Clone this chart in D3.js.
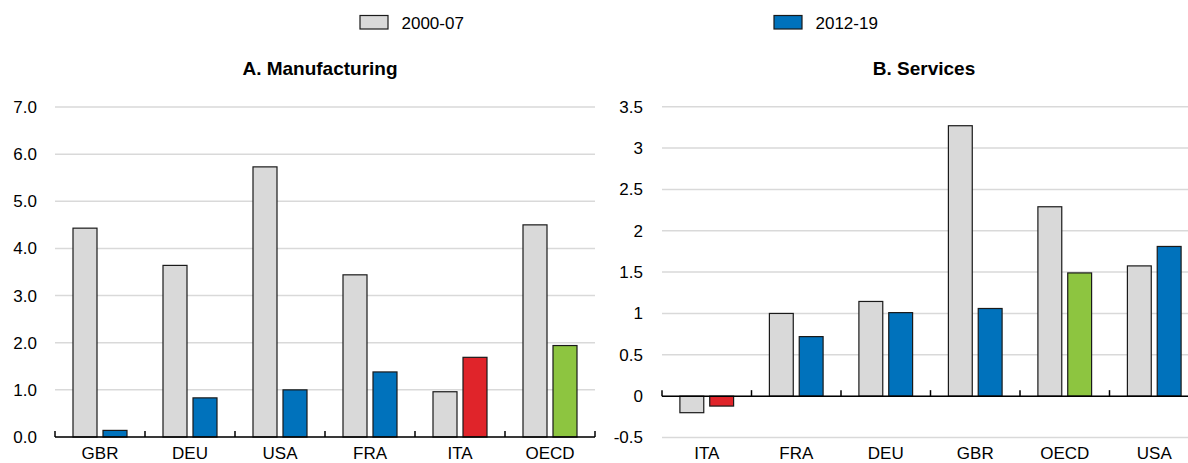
<!DOCTYPE html>
<html><head><meta charset="utf-8">
<script src="https://cdn.jsdelivr.net/npm/d3@7"></script>
<style>
html,body{margin:0;padding:0;background:#fff;}
svg{display:block;font-family:"Liberation Sans Narrow","Arial Narrow","Liberation Sans",Arial,sans-serif;}
</style></head>
<body>
<svg id="chart" width="1188" height="463"></svg>
<script>
const seriesNames = ["2000-07", "2012-19"];
const mfgCats = ["GBR","DEU","USA","FRA","ITA","OECD"];
const mfg0007 = [4.43, 3.64, 5.73, 3.44, 0.96, 4.50];
const mfg1219 = [0.14, 0.83, 1.00, 1.38, 1.69, 1.94];
const mfgTicks = [0,1,2,3,4,5,6,7];
const svcCats = ["ITA","FRA","DEU","GBR","OECD","USA"];
const svc0007 = [-0.20, 1.00, 1.145, 3.27, 2.29, 1.575];
const svc1219 = [-0.12, 0.72, 1.01, 1.06, 1.49, 1.81];
const svcTicks = [-0.5,0,0.5,1,1.5,2,2.5,3,3.5];

const GREY = "#d9d9d9", BLUE = "#0072bc", RED = "#e0242a", GREEN = "#8dc540";
const colorFor = (cat, s) => s === 0 ? GREY : (cat === "ITA" ? RED : cat === "OECD" ? GREEN : BLUE);

const svg = d3.select("#chart");
const FS = 17;

function panel(cfg) {
  const g = svg.append("g");
  const x = d3.scaleBand().domain(cfg.cats).range([cfg.x0, cfg.x1]).padding(0);
  const xs = d3.scaleBand().domain([0,1]).range([0, x.bandwidth()]).paddingInner(0.2).paddingOuter(0.6);
  const y = d3.scaleLinear().domain(cfg.domain).range([cfg.yBottom, cfg.yTop]);

  // gridlines
  g.selectAll(".grid").data(cfg.ticks).join("line")
    .attr("x1", cfg.x0).attr("x2", cfg.x1)
    .attr("y1", d => y(d)).attr("y2", d => y(d))
    .attr("stroke", "#d9d9d9").attr("stroke-width", 1.5);

  // y axis labels
  const ya = d3.axisLeft(y).tickValues(cfg.ticks).tickSize(0).tickPadding(0).tickFormat(cfg.fmt);
  const yg = g.append("g").attr("transform", `translate(${cfg.labelX},0)`).call(ya);
  yg.select(".domain").remove();
  yg.selectAll("text").attr("font-size", FS).attr("fill", "#000").attr("font-family", null);

  // bars
  const rows = cfg.cats.map((c, i) => ({cat: c, vals: [cfg.s0[i], cfg.s1[i]]}));
  rows.forEach(r => {
    r.vals.forEach((v, s) => {
      g.append("rect")
        .attr("x", x(r.cat) + xs(s))
        .attr("width", xs.bandwidth())
        .attr("y", Math.min(y(v), y(0)))
        .attr("height", Math.abs(y(v) - y(0)))
        .attr("fill", colorFor(r.cat, s))
        .attr("stroke", "#1a1a1a").attr("stroke-width", 1.2);
    });
  });

  // zero axis line
  g.append("line").attr("x1", cfg.x0).attr("x2", cfg.x1)
    .attr("y1", y(0)).attr("y2", y(0)).attr("stroke", "#000").attr("stroke-width", 1.5);
  // boundary ticks (upward)
  const bounds = cfg.cats.map(c => x(c)).concat([cfg.x1]);
  g.selectAll(".btick").data(bounds).join("line")
    .attr("x1", d => d).attr("x2", d => d)
    .attr("y1", y(0)).attr("y2", y(0) - 6)
    .attr("stroke", "#000").attr("stroke-width", 1.5);

  // x labels
  const xa = d3.axisBottom(x).tickSize(0).tickPadding(0);
  const xg = g.append("g").attr("transform", `translate(0,${cfg.labelY})`).call(xa);
  xg.select(".domain").remove();
  xg.selectAll("text").attr("font-size", FS).attr("fill", "#000").attr("font-family", null)
    .attr("dy", "0").attr("y", 0);

  // title
  g.append("text").attr("x", cfg.titleX).attr("y", 75).attr("text-anchor", "middle")
    .attr("font-weight", "bold").attr("font-size", 19).text(cfg.title);
}

panel({cats: mfgCats, s0: mfg0007, s1: mfg1219, ticks: mfgTicks, domain: [0,7],
  x0: 55, x1: 595, yBottom: 437, yTop: 107, labelX: 37, labelY: 459,
  fmt: d3.format(".1f"), title: "A. Manufacturing", titleX: 320});
panel({cats: svcCats, s0: svc0007, s1: svc1219, ticks: svcTicks, domain: [-0.5,3.5],
  x0: 662, x1: 1199, yBottom: 437.5, yTop: 106.7, labelX: 643, labelY: 459,
  fmt: d => String(d), title: "B. Services", titleX: 924});

// legend
const leg = svg.append("g");
const legItems = [{name: seriesNames[0], color: GREY, x: 360}, {name: seriesNames[1], color: BLUE, x: 774}];
legItems.forEach(l => {
  leg.append("rect").attr("x", l.x).attr("y", 15.5).attr("width", 28).attr("height", 13.5)
    .attr("fill", l.color).attr("stroke", "#1a1a1a").attr("stroke-width", 1.2);
  leg.append("text").attr("x", l.x + 41.5).attr("y", 28.5).attr("font-size", FS).text(l.name);
});
</script>
</body></html>
